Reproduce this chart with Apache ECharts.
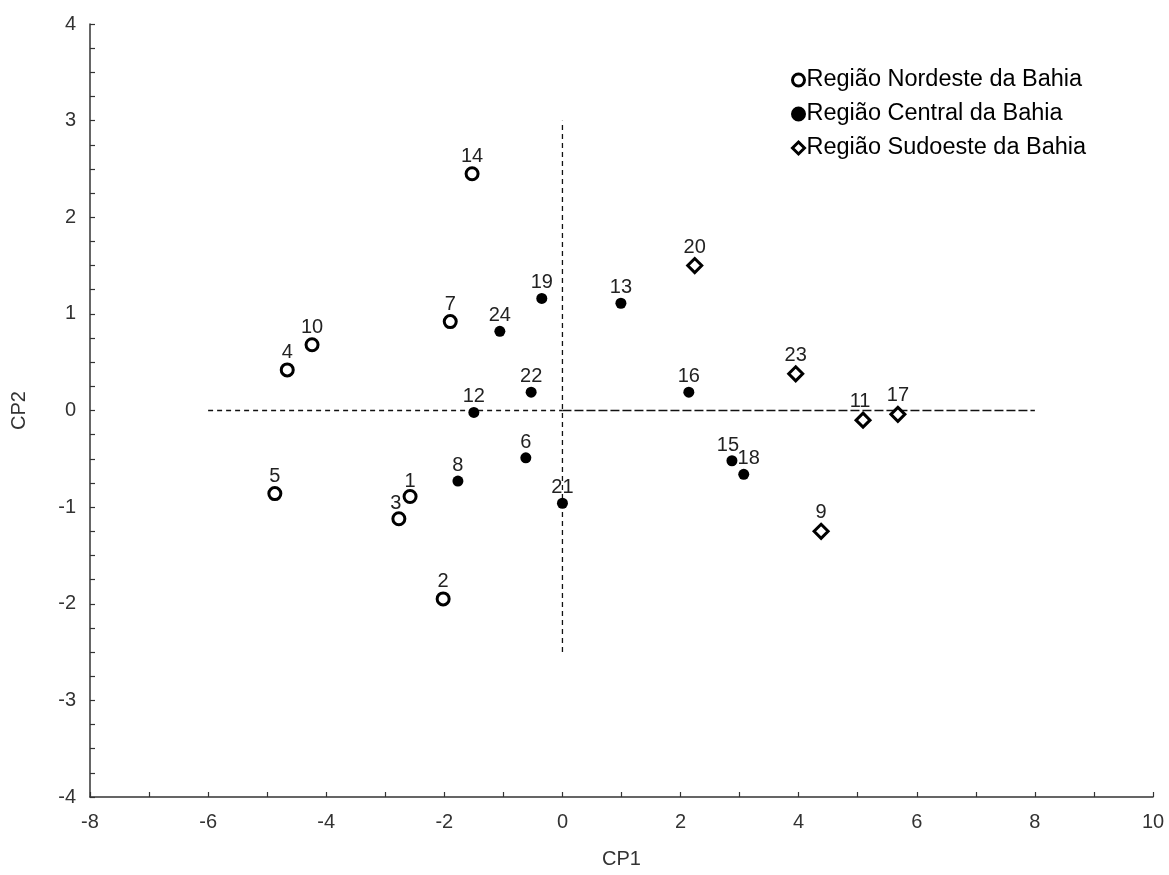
<!DOCTYPE html>
<html>
<head>
<meta charset="utf-8">
<script src="https://cdn.jsdelivr.net/npm/echarts@6/dist/echarts.min.js"></script>
<style>html,body{margin:0;padding:0;background:#fff;}#c{width:1169px;height:875px;}</style>
</head>
<body>
<div id="c"></div>
<script>
// Data
var seriesNames = ['Região Nordeste da Bahia', 'Região Central da Bahia', 'Região Sudoeste da Bahia'];

var nordesteIds = ['1', '2', '3', '4', '5', '7', '10', '14'];
var nordesteX = [-2.58, -2.02, -2.77, -4.66, -4.87, -1.90, -4.24, -1.53];
var nordesteY = [-0.89, -1.95, -1.12, 0.42, -0.86, 0.92, 0.68, 2.45];

var centralIds = ['6', '8', '12', '13', '15', '16', '18', '19', '21', '22', '24'];
var centralX = [-0.62, -1.77, -1.50, 0.99, 2.87, 2.14, 3.07, -0.35, 0.00, -0.53, -1.06];
var centralY = [-0.49, -0.73, -0.02, 1.11, -0.52, 0.19, -0.66, 1.16, -0.96, 0.19, 0.82];

var sudoesteIds = ['9', '11', '17', '20', '23'];
var sudoesteX = [4.38, 5.09, 5.68, 2.24, 3.95];
var sudoesteY = [-1.25, -0.10, -0.04, 1.50, 0.38];

var refLineLeft = [[-6, 0], [0, 0]];
var refLineRight = [[0, 0], [8, 0]];
var refLineV = [[0, -2.5], [0, 3]];

var xTicks = { min: -8, max: 10, interval: 2 };
var yTicks = { min: -4, max: 4, interval: 1 };

function pts(ids, xs, ys) {
  return ids.map(function (id, i) { return { value: [xs[i], ys[i]], name: id }; });
}

// label nudges (style only)
var labelNudge = { '3': [-3, 2], '15': [-4, 0], '18': [5, 0], '11': [-3, 0], '1': [0, 2] };

function withNudge(arr) {
  return arr.map(function (d) {
    var n = labelNudge[d.name];
    if (n) d.label = { offset: n };
    return d;
  });
}

var FF = 'Liberation Sans, Arial, sans-serif';
var labelStyle = { show: true, position: 'top', distance: 0, formatter: '{b}', color: '#222', fontSize: 20, fontFamily: FF };

var dashStyle = { color: '#111', width: 1.3, type: [5, 4] };
var dashStyleLong = { color: '#111', width: 1.3, type: [9, 3] };

var chart = echarts.init(document.getElementById('c'), null, { renderer: 'canvas' });
chart.setOption({
  backgroundColor: '#fff',
  animation: false,
  grid: { left: 90, right: 16, top: 24, bottom: 78, containLabel: false, outerBoundsMode: 'none' },
  legend: {
    orient: 'vertical',
    left: 786,
    top: 63,
    itemGap: 10,
    itemWidth: 12,
    itemHeight: 12,
    data: seriesNames,
    itemStyle: { borderWidth: 3 },
    textStyle: { fontSize: 23.5, color: '#000', fontFamily: FF, padding: [0, 0, 0, -3] }
  },
  xAxis: {
    type: 'value', min: xTicks.min, max: xTicks.max, interval: xTicks.interval,
    name: 'CP1', nameLocation: 'middle', nameGap: 52,
    nameTextStyle: { fontSize: 20, color: '#333', fontFamily: FF },
    axisLine: { show: true, onZero: false, lineStyle: { color: '#333', width: 1.5 } },
    axisTick: { show: true, inside: true, length: 5, lineStyle: { color: '#333', width: 1.2 } },
    minorTick: { show: true, splitNumber: 2, length: 5, lineStyle: { color: '#333', width: 1.2 } },
    splitLine: { show: false },
    axisLabel: { fontSize: 20, color: '#333', margin: 15, fontFamily: FF }
  },
  yAxis: {
    type: 'value', min: yTicks.min, max: yTicks.max, interval: yTicks.interval,
    name: 'CP2', nameLocation: 'middle', nameGap: 61, nameRotate: 90,
    nameTextStyle: { fontSize: 20, color: '#333', fontFamily: FF },
    axisLine: { show: true, onZero: false, lineStyle: { color: '#333', width: 1.5 } },
    axisTick: { show: true, inside: true, length: 5, lineStyle: { color: '#333', width: 1.2 } },
    minorTick: { show: true, splitNumber: 4, length: 5, lineStyle: { color: '#333', width: 1.2 } },
    splitLine: { show: false },
    axisLabel: { fontSize: 20, color: '#333', margin: 14, fontFamily: FF }
  },
  series: [
    { type: 'line', data: refLineLeft, symbol: 'none', lineStyle: dashStyle, silent: true, z: 1 },
    { type: 'line', data: refLineRight, symbol: 'none', lineStyle: dashStyleLong, silent: true, z: 1 },
    { type: 'line', data: refLineV, symbol: 'none', lineStyle: dashStyle, silent: true, z: 1 },
    {
      name: seriesNames[0], type: 'scatter', data: withNudge(pts(nordesteIds, nordesteX, nordesteY)),
      symbol: 'circle', symbolSize: 12,
      itemStyle: { color: '#fff', borderColor: '#000', borderWidth: 3, opacity: 1 },
      label: labelStyle, z: 3
    },
    {
      name: seriesNames[1], type: 'scatter', data: withNudge(pts(centralIds, centralX, centralY)),
      symbol: 'circle', symbolSize: 11,
      itemStyle: { color: '#000', borderColor: '#000', borderWidth: 0, opacity: 1 },
      label: labelStyle, z: 3
    },
    {
      name: seriesNames[2], type: 'scatter', data: withNudge(pts(sudoesteIds, sudoesteX, sudoesteY)),
      symbol: 'diamond', symbolSize: 14,
      itemStyle: { color: '#fff', borderColor: '#000', borderWidth: 3, opacity: 1 },
      label: labelStyle, z: 3
    }
  ]
});
</script>
</body>
</html>
